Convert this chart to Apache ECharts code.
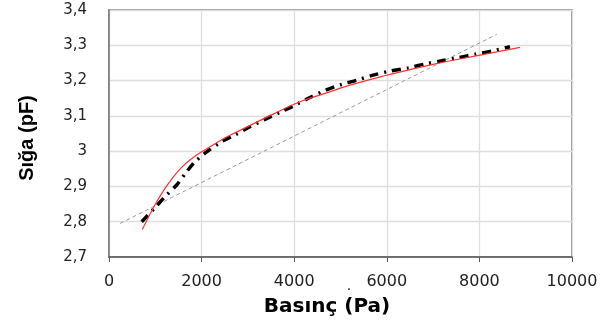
<!DOCTYPE html>
<html><head><meta charset="utf-8">
<script src="https://cdn.jsdelivr.net/npm/echarts@6/dist/echarts.min.js"></script>
<style>html,body{margin:0;padding:0;background:#fff}#c{width:603px;height:329px}</style>
</head><body><div id="c"></div>
<script>
const xTicks = [0, 2000, 4000, 6000, 8000, 10000];
const yTicks = [2.7, 2.8, 2.9, 3.0, 3.1, 3.2, 3.3, 3.4];
const xTitle = 'Basınç (Pa)';
const yTitle = 'Sığa (pF)';
// measured data (black dash-dot)
const measX = [706, 994, 1209, 1462, 1678, 1857, 2110, 2434, 2721, 3045, 3369, 3693, 3981, 4341, 4665, 5025, 5349, 5724, 6069, 6465, 6825, 7185, 7545, 7920, 8287, 8661];
const measY = [2.800, 2.840, 2.871, 2.904, 2.942, 2.970, 2.998, 3.027, 3.046, 3.069, 3.090, 3.110, 3.128, 3.152, 3.172, 3.189, 3.201, 3.216, 3.227, 3.236, 3.247, 3.256, 3.265, 3.275, 3.284, 3.296];
// fitted curve (red)
const fitX = [719, 994, 1173, 1354, 1570, 1821, 2002, 2326, 2613, 2974, 3500, 4125, 4700, 5205, 5997, 7000, 8013, 8877];
const fitY = [2.778, 2.848, 2.887, 2.921, 2.954, 2.982, 2.998, 3.024, 3.045, 3.068, 3.102, 3.140, 3.165, 3.187, 3.215, 3.246, 3.272, 3.294];
// linear trend (grey dashed)
const linX = [238, 8374];
const linY = [2.795, 3.331];

const zip = (a, b) => a.map((v, i) => [v, b[i]]);
const chart = echarts.init(document.getElementById('c'), null, {renderer: 'canvas'});
chart.setOption({
  animation: false,
  grid: {left: 109, right: 31, top: 10, bottom: 72, show: true, borderColor: '#7a7a7a', borderWidth: 1.5, backgroundColor: 'transparent'},
  xAxis: {
    type: 'value', min: xTicks[0], max: xTicks[xTicks.length - 1], interval: 2000,
    axisLine: {lineStyle: {color: '#555', width: 1.5}},
    axisTick: {show: true, length: 5, lineStyle: {color: '#555'}},
    axisLabel: {fontFamily: 'DejaVu Sans', fontSize: 16, color: '#222', margin: 17,
      formatter: v => String(v)},
    splitLine: {lineStyle: {color: '#dedede', width: 1.3}}
  },
  yAxis: {
    type: 'value', min: yTicks[0], max: yTicks[yTicks.length - 1], interval: 0.1,
    axisLine: {show: true, lineStyle: {color: '#7a7a7a', width: 1.5}},
    axisTick: {show: false},
    axisLabel: {fontFamily: 'DejaVu Sans', fontSize: 15, color: '#222', margin: 22,
      formatter: v => (Math.round(v * 10) / 10).toString().replace('.', ',')},
    splitLine: {lineStyle: {color: '#dedede', width: 1.3}}
  },
  series: [
    {type: 'line', data: zip(linX, linY), symbol: 'none', lineStyle: {color: '#999', width: 1, type: [4, 3]}, z: 2},
    {type: 'line', data: zip(measX, measY), symbol: 'none', smooth: 0.3, lineStyle: {color: '#000', width: 3.5, type: [9, 6, 2, 6]}, z: 3},
    {type: 'line', data: zip(fitX, fitY), symbol: 'none', smooth: 0.5, lineStyle: {color: '#ff3030', width: 1.2}, z: 4}
  ],
  graphic: [
    {type: 'text', x: 327, y: 307, style: {text: xTitle, fontFamily: 'DejaVu Sans', fontWeight: 'bold', fontSize: 20, fill: '#000', align: 'center', verticalAlign: 'middle'}},
    {type: 'text', x: 27, y: 138, rotation: Math.PI / 2, style: {text: yTitle, fontFamily: 'Liberation Sans', fontWeight: 'bold', fontSize: 20, fill: '#000', align: 'center', verticalAlign: 'middle'}},
    {type: 'text', x: 349, y: 286, style: {text: '.', fontFamily: 'DejaVu Sans', fontSize: 14, fill: '#222', align: 'center', verticalAlign: 'middle'}}
  ]
});
</script></body></html>
